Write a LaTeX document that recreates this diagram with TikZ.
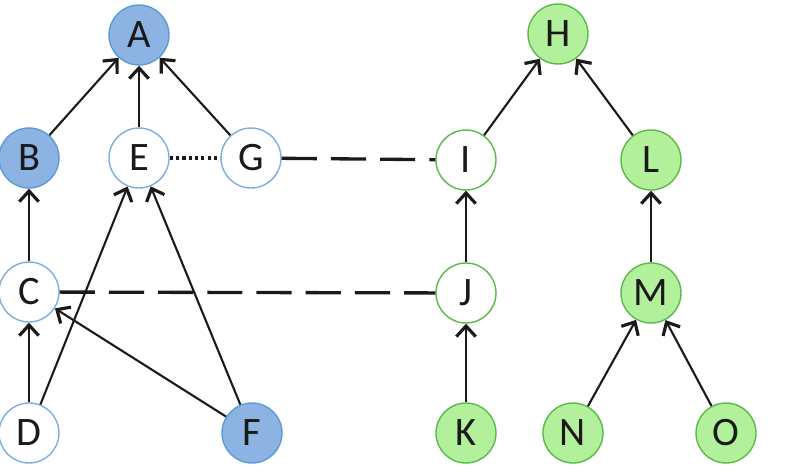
\documentclass[tikz,border=0pt]{standalone}
\usepackage{fontspec}
\setmainfont{Carlito}
\usepackage{tikz}
\usetikzlibrary{arrows.meta}
\definecolor{bluefill}{HTML}{8DB3E2}
\definecolor{blueline}{HTML}{5B9BD5}
\definecolor{greenfill}{HTML}{B2F09C}
\definecolor{greenline}{HTML}{5DB84A}
\definecolor{ink}{HTML}{1A1A1A}

\begin{document}
\begin{tikzpicture}[x=0.02cm,y=-0.02cm,
    vertex/.style={circle,minimum size=1.2cm,inner sep=0pt,line width=0.8pt,
      font=\fontsize{23}{23}\selectfont,text=ink},
    blue/.style={vertex,draw=blueline,fill=bluefill},
    bluering/.style={vertex,draw=blueline!80,fill=white},
    green/.style={vertex,draw=greenline,fill=greenfill},
    greenring/.style={vertex,draw=greenline,fill=white},
    link/.style={draw=ink,line width=1.2pt,-{Straight Barb[length=6pt,width=11pt,line width=1.8pt]}},
    longdash/.style={draw=ink,line width=1.9pt,dash pattern=on 20pt off 8pt},
    dotline/.style={draw=ink,line width=1.9pt,dash pattern=on 1.8pt off 1.8pt}]
  \useasboundingbox (0,0) rectangle (789,471);
  % left graph
  \node[blue]      (A) at (139,35)  {A};
  \node[blue]      (B) at (29,158)  {B};
  \node[bluering]  (E) at (139,158) {E};
  \node[bluering]  (G) at (251,158) {G};
  \node[bluering]  (C) at (29,292)  {C};
  \node[bluering]  (D) at (29,433)  {D};
  \node[blue]      (F) at (252,433) {F};
  % right graph
  \node[green]     (H) at (558,34)  {H};
  \node[greenring] (I) at (466,160) {I};
  \node[green]     (L) at (651,160) {L};
  \node[greenring] (J) at (466,293) {J};
  \node[green]     (M) at (651,293) {M};
  \node[green]     (K) at (466,433) {K};
  \node[green]     (N) at (573,433) {N};
  \node[green]     (O) at (726,433) {O};
  % arrows
  \foreach \s/\t in {B/A,E/A,G/A,C/B,D/C,F/C,D/E,F/E,I/H,L/H,J/I,M/L,K/J,N/M,O/M}
    \draw[link] (\s) -- (\t);
  % links between the two
  \draw[dotline] (E) -- (G);
  \draw[longdash] (G) -- (I);
  \draw[longdash] (C) -- (J);
\end{tikzpicture}
\end{document}
